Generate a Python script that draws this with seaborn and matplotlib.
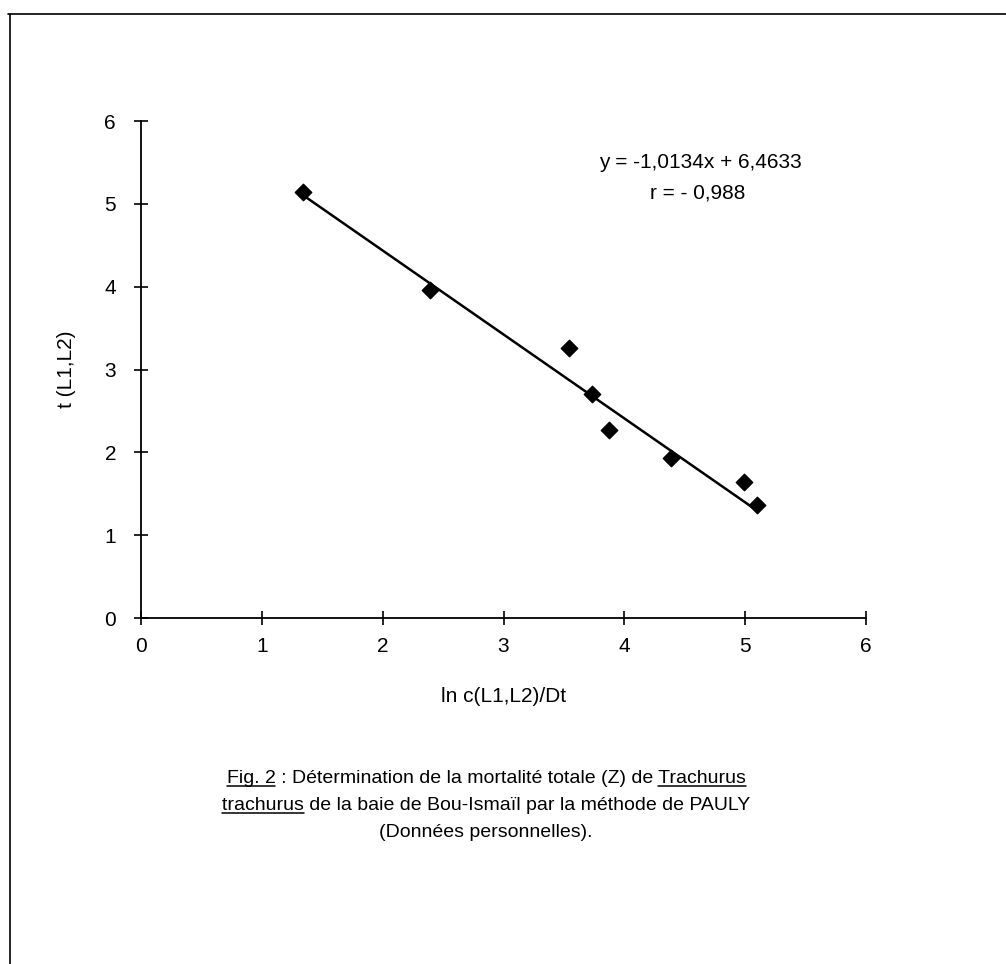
import matplotlib
matplotlib.use('Agg')
import matplotlib.pyplot as plt
import seaborn as sns
import numpy as np
import pandas as pd
from matplotlib.lines import Line2D

# data
ln_c = [1.34, 2.39, 3.54, 3.73, 3.87, 4.39, 4.99, 5.10]
t_l1l2 = [5.14, 3.96, 3.26, 2.70, 2.27, 1.93, 1.64, 1.36]
slope = -1.0134
intercept = 6.4633
r_value = '- 0,988'
ticks = [0, 1, 2, 3, 4, 5, 6]

df = pd.DataFrame({'x': ln_c, 'y': t_l1l2})
fit_x = np.array([min(ln_c), max(ln_c)])
fit = pd.DataFrame({'x': fit_x, 'y': slope * fit_x + intercept})

sns.set_theme(style='white')
plt.rcParams['font.family'] = ['Liberation Sans', 'DejaVu Sans']
plt.rcParams['text.color'] = 'black'
plt.rcParams['axes.labelcolor'] = 'black'

W, H = 1006, 964
fig = plt.figure(figsize=(W / 100, H / 100), dpi=100)
ax = fig.add_axes([141 / W, 1 - 618 / H, 725 / W, 497 / H])

sns.lineplot(data=fit, x='x', y='y', color='black', lw=1.8, ax=ax)
sns.scatterplot(data=df, x='x', y='y', marker='D', s=70, color='black',
                edgecolor='black', linewidth=1, ax=ax, zorder=3)

ax.set_xlim(0, 6)
ax.set_ylim(0, 6)
ax.set_xticks(ticks)
ax.set_yticks(ticks)
for s in ['top', 'right']:
    ax.spines[s].set_visible(False)
for s in ['left', 'bottom']:
    ax.spines[s].set_color('black')
    ax.spines[s].set_linewidth(1.3)
ax.tick_params(bottom=True, left=True, direction='inout', length=10, width=1.2,
               colors='black', labelsize=15)
ax.tick_params(axis='y', pad=13)
ax.tick_params(axis='x', pad=9)
ax.set_xlabel('ln c(L1,L2)/Dt', fontsize=15, labelpad=22)
ax.set_ylabel('t (L1,L2)', fontsize=15, labelpad=20)

# equation
eq_x = 700 / W
fig.text(eq_x, 1 - 162 / H, 'y = %s + %s' % (str(slope).replace('.', ',') + 'x',
         str(intercept).replace('.', ',')), ha='center', va='center', fontsize=15)
fig.text(eq_x - 2 / W, 1 - 193 / H, 'r = ' + r_value, ha='center', va='center', fontsize=15)

# page border (scanned frame)
fig.add_artist(Line2D([8 / W, 1], [1 - 14 / H, 1 - 14 / H], transform=fig.transFigure,
                      color='black', lw=1.2))
fig.add_artist(Line2D([10 / W, 10 / W], [0, 1 - 14 / H], transform=fig.transFigure,
                      color='black', lw=1.2))

# caption with underlined words
caption = [
    (['Fig. 2', ' : Détermination de la mortalité totale (Z) de ', 'Trachurus'], [True, False, True], 783),
    (['trachurus', ' de la baie de Bou-Ismaïl par la méthode de PAULY'], [True, False], 810),
    (['(Données personnelles).'], [False], 837),
]
cap_cx = 486
cap_fs = 14
renderer = fig.canvas.get_renderer()


def text_w(s):
    t = fig.text(0, 0, s + '|', fontsize=cap_fs)
    w = t.get_window_extent(renderer).width
    t.remove()
    t = fig.text(0, 0, '|', fontsize=cap_fs)
    w -= t.get_window_extent(renderer).width
    t.remove()
    return w


for parts, under, base in caption:
    full = ''.join(parts)
    total = text_w(full)
    left = cap_cx - total / 2
    fig.text(left / W, 1 - base / H, full, ha='left', va='baseline', fontsize=cap_fs)
    pos = 0
    for p, u in zip(parts, under):
        w = text_w(p)
        if u:
            fig.add_artist(Line2D([(left + pos) / W, (left + pos + w) / W],
                                  [1 - (base + 3) / H] * 2, transform=fig.transFigure,
                                  color='black', lw=1.1))
        pos += w

fig.savefig('out.png', dpi=100)
